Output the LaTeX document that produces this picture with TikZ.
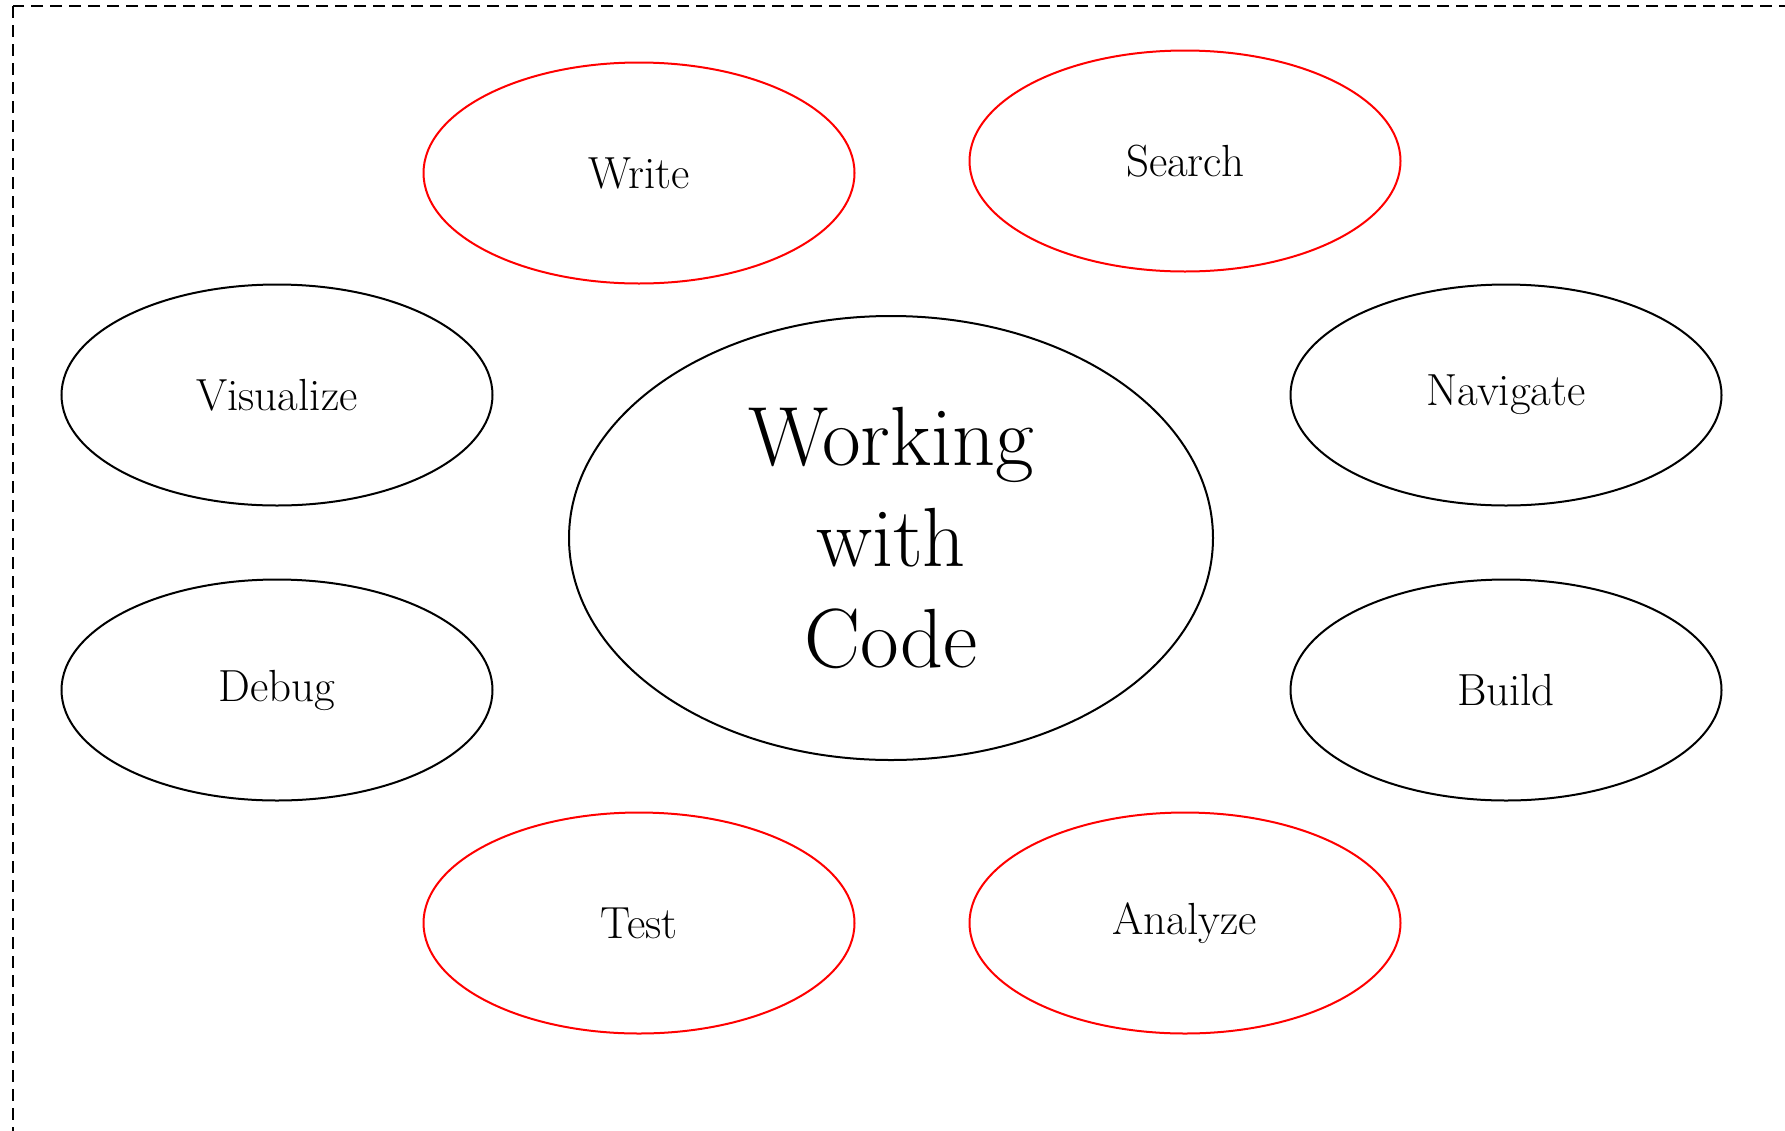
\documentclass[tikz,border=0pt]{standalone}
\usepackage{fontspec}
\usetikzlibrary{shapes.geometric}
\tikzset{
  bubble/.style={ellipse, draw=black, line width=2pt, minimum width=431pt,
    minimum height=221pt, inner sep=0pt, font=\fontsize{45}{54}\selectfont},
  redbubble/.style={bubble, draw=red},
  hub/.style={ellipse, draw=black, line width=2pt, minimum width=644pt,
    minimum height=444pt, inner sep=0pt, align=center,
    font=\fontsize{84}{101}\selectfont},
  frame/.style={draw=black, line width=2.2pt, dash pattern=on 12pt off 7pt}
}
\begin{document}
\begin{tikzpicture}[x=1pt,y=-1pt]
  \useasboundingbox (0,0) rectangle (1785,1130);
  \begin{scope}
    \clip (0,0) rectangle (1785,1130);
    \draw[frame] (13,6) rectangle (1900,1250);
  \end{scope}

  \node[hub] (core) at (891,538) {Working\\with\\Code};

  \node[redbubble] (write)   at (639,173) {Write};
  \node[redbubble] (search)  at (1185,161) {Search};
  \node[bubble]    (visual)  at (277,395) {Visualize};
  \node[bubble]    (nav)     at (1506,395) {Navigate};
  \node[bubble]    (debug)   at (277,690) {Debug};
  \node[bubble]    (build)   at (1506,690) {Build};
  \node[redbubble] (test)    at (639,923) {Test};
  \node[redbubble] (analyze) at (1185,923) {Analyze};
\end{tikzpicture}
\end{document}
